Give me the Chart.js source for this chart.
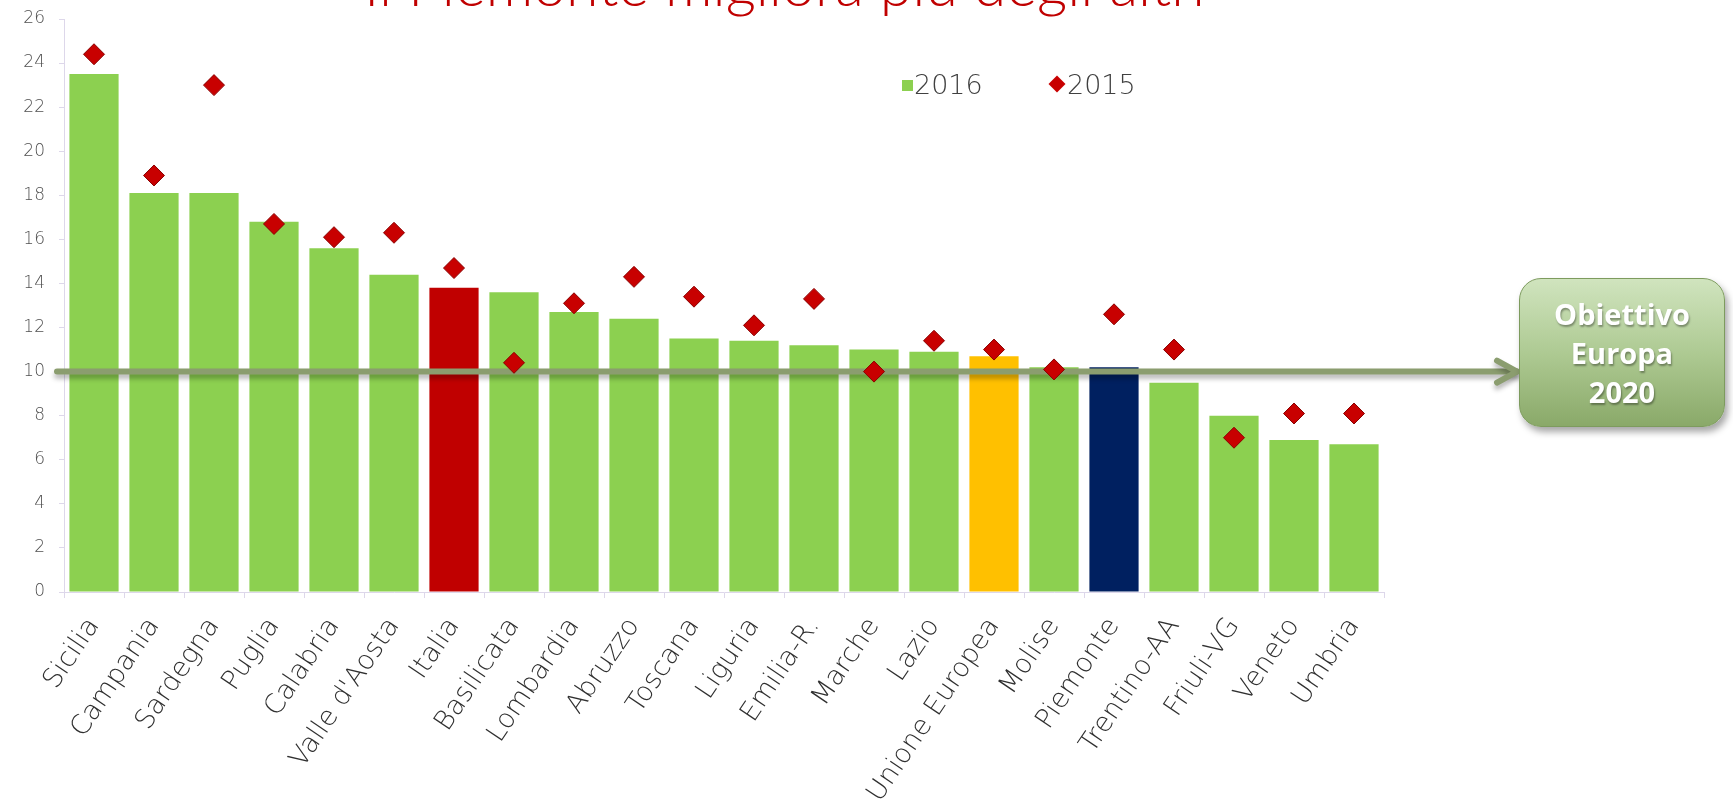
<!DOCTYPE html>
<html>
<head>
<meta charset="utf-8">
<script src="https://cdn.jsdelivr.net/npm/chart.js@4.4.0/dist/chart.umd.min.js"></script>
<style>
  html, body { margin: 0; padding: 0; background: #ffffff; overflow: hidden; }
  #wrap { position: relative; width: 1733px; height: 809px; }
  #c { position: absolute; left: 0; top: 0; }
  #title { position: absolute; left: 364px; top: -46px; white-space: nowrap;
           font-family: 'Lato', 'Liberation Sans', sans-serif; font-weight: 300;
           font-size: 59px; line-height: 59px; color: #C00000; }
  #legend { position: absolute; left: 0; top: 0; width: 1733px; height: 0; }
  .lg-item { position: absolute; font-family: 'DejaVu Sans', sans-serif; font-weight: 300;
             font-size: 27px; line-height: 30px; color: #404040; white-space: nowrap; }
  .lg-sq { position: absolute; width: 11px; height: 11px; }
  .lg-dm { position: absolute; width: 12px; height: 12px; transform: rotate(45deg); }
  #goal { position: absolute; left: 1519px; top: 278px; width: 206px; height: 149px;
          box-sizing: border-box; border-radius: 22px;
          background: linear-gradient(to bottom, #D0E4BE 0%, #AECA93 50%, #8AA969 100%);
          border: 1.5px solid #7D9B5E; box-shadow: 3px 5px 7px rgba(0,0,0,0.35);
          display: flex; align-items: center; justify-content: center; text-align: center;
          font-family: 'Open Sans', 'Liberation Sans', sans-serif; font-weight: 700;
          font-size: 29px; line-height: 39px; color: #ffffff;
          text-shadow: 1px 2px 2px rgba(0,0,0,0.35); }
</style>
</head>
<body>
<div id="wrap">
  <canvas id="c" width="1733" height="809"></canvas>
  <div id="title">Il Piemonte migliora più degli altri</div>
  <div id="legend"></div>
  <div id="goal"><div>Obiettivo<br>Europa<br>2020</div></div>
</div>
<script>
// ---- data ----
const categories = ['Sicilia', 'Campania', 'Sardegna', 'Puglia', 'Calabria', "Valle d'Aosta", 'Italia',
  'Basilicata', 'Lombardia', 'Abruzzo', 'Toscana', 'Liguria', 'Emilia-R.', 'Marche', 'Lazio',
  'Unione Europea', 'Molise', 'Piemonte', 'Trentino-AA', 'Friuli-VG', 'Veneto', 'Umbria'];
const values2016 = [23.5, 18.1, 18.1, 16.8, 15.6, 14.4, 13.8, 13.6, 12.7, 12.4, 11.5, 11.4, 11.2,
  11.0, 10.9, 10.7, 10.2, 10.2, 9.5, 8.0, 6.9, 6.7];
const values2015 = [24.4, 18.9, 23.0, 16.7, 16.1, 16.3, 14.7, 10.4, 13.1, 14.3, 13.4, 12.1, 13.3,
  10.0, 11.4, 11.0, 10.1, 12.6, 11.0, 7.0, 8.1, 8.1];
const seriesLabels = ['2016', '2015'];
const targetValue = 10;            // Obiettivo Europa 2020
const yTicks = { min: 0, max: 26, step: 2 };

// ---- styles ----
const barGreen = '#8CD050';
const highlight = { 'Italia': '#C00000', 'Unione Europea': '#FFC000', 'Piemonte': '#002060' };
const diamondColor = '#C80000';
const axisColor = '#DDD7EA';
const textColor = '#303030';

const barColors = categories.map(c => highlight[c] || barGreen);

const targetPlugin = {
  id: 'targetLine',
  afterDatasetDraw(chart, args) {
    if (args.index !== 0) return;
    const ctx = chart.ctx;
    const y = chart.scales.y.getPixelForValue(targetValue);
    const x0 = chart.chartArea.left - 7;
    const goal = document.getElementById('goal');
    const x1 = goal.offsetLeft - 2;
    ctx.save();
    ctx.strokeStyle = '#8B9D6F';
    ctx.lineWidth = 6;
    ctx.lineCap = 'round';
    ctx.lineJoin = 'round';
    ctx.shadowColor = 'rgba(0,0,0,0.30)';
    ctx.shadowBlur = 5;
    ctx.shadowOffsetY = 4;
    ctx.beginPath();
    ctx.moveTo(x0, y);
    ctx.lineTo(x1, y);
    ctx.stroke();
    ctx.beginPath();
    ctx.moveTo(x1 - 20, y - 11);
    ctx.lineTo(x1, y);
    ctx.lineTo(x1 - 20, y + 11);
    ctx.stroke();
    ctx.restore();
  }
};

const chart = new Chart(document.getElementById('c'), {
  type: 'bar',
  data: {
    labels: categories,
    datasets: [
      {
        type: 'bar',
        label: seriesLabels[0],
        data: values2016,
        backgroundColor: barColors,
        borderWidth: 0,
        categoryPercentage: 1.0,
        barPercentage: 0.82,
        order: 2
      },
      {
        type: 'line',
        label: seriesLabels[1],
        data: values2015,
        showLine: false,
        pointStyle: 'rectRot',
        pointRadius: 10.5,
        pointHoverRadius: 10.5,
        pointBackgroundColor: diamondColor,
        pointBorderColor: '#8A0000',
        pointBorderWidth: 1,
        order: 1
      }
    ]
  },
  options: {
    responsive: false,
    animation: false,
    devicePixelRatio: 1,
    layout: { padding: { left: 0, right: 349, top: 19, bottom: 0 } },
    plugins: {
      legend: { display: false },
      tooltip: { enabled: false },
      title: { display: false }
    },
    scales: {
      x: {
        grid: { display: true, drawOnChartArea: false, drawTicks: true, tickLength: 6, color: axisColor, offset: true },
        border: { display: true, color: axisColor, width: 1 },
        ticks: {
          autoSkip: false, maxRotation: 56, minRotation: 56, padding: 14,
          color: textColor,
          font: { family: "'DejaVu Sans', sans-serif", size: 27, weight: 300 }
        },
        afterFit(scale) { scale.height = 809 - 592; }
      },
      y: {
        min: yTicks.min, max: yTicks.max,
        grid: { display: true, drawOnChartArea: false, drawTicks: true, tickLength: 5, color: axisColor },
        border: { display: true, color: axisColor, width: 1 },
        ticks: {
          stepSize: yTicks.step, padding: 14, color: '#505050',
          font: { family: "'DejaVu Sans', sans-serif", size: 17, weight: 300 }
        },
        afterFit(scale) {
          scale.width = 64;
          scale.paddingTop = 10;
          scale.paddingBottom = 10;
        }
      }
    }
  },
  plugins: [targetPlugin]
});

// ---- legend built from the datasets ----
(function buildLegend() {
  const lg = document.getElementById('legend');
  const ds = chart.data.datasets;
  const pos = [ { mark: 902, text: 914 }, { mark: 1051, text: 1067 } ];
  ds.forEach((d, i) => {
    const m = document.createElement('div');
    if (d.type === 'line') {
      m.className = 'lg-dm';
      m.style.background = d.pointBackgroundColor;
      m.style.left = pos[i].mark + 'px';
      m.style.top = '78px';
    } else {
      m.className = 'lg-sq';
      m.style.background = barGreen;
      m.style.left = pos[i].mark + 'px';
      m.style.top = '80px';
    }
    lg.appendChild(m);
    const t = document.createElement('div');
    t.className = 'lg-item';
    t.textContent = d.label;
    t.style.left = pos[i].text + 'px';
    t.style.top = '70px';
    lg.appendChild(t);
  });
})();
</script>
</body>
</html>
